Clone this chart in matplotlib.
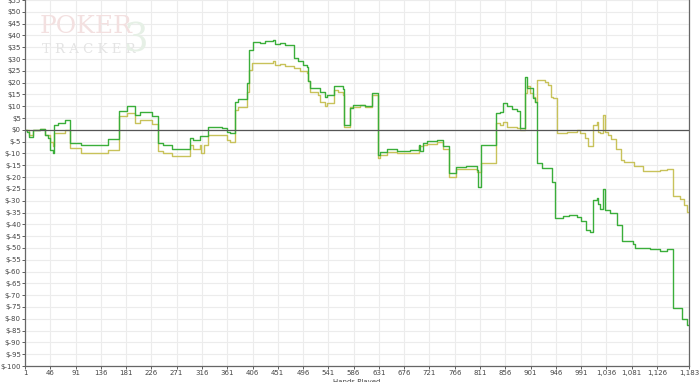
import numpy as np
import matplotlib.pyplot as plt

# cumulative winnings as (hand, dollars) breakpoints
green_hands = [1, 4, 8, 15, 28, 37, 42, 45, 51, 53, 60, 72, 81, 101, 149, 169, 183, 197,
               206, 227, 237, 247, 263, 295, 300, 312, 327, 351, 360, 366, 375, 380, 396,
               400, 407, 419, 428, 442, 446, 455, 464, 479, 487, 496, 503, 505, 508, 526,
               535, 539, 551, 567, 569, 580, 584, 606, 618, 630, 633, 645, 663, 686, 702,
               705, 709, 716, 734, 745, 756, 769, 786, 805, 807, 812, 839, 846, 852, 859,
               868, 877, 882, 891, 894, 905, 909, 912, 921, 939, 944, 958, 970, 984, 991,
               1000, 1006, 1012, 1019, 1021, 1024, 1030, 1033, 1042, 1055, 1064, 1083,
               1087, 1113, 1131, 1144, 1154, 1170, 1179, 1183]
green_won = [0, -1, -3, 0, 0.5, -2, -3.5, -8.5, -10, 2, 3, 4, -5.5, -6.6, -4, 8, 10, 6.3,
             7.5, 6, -5.4, -6.4, -8, -3.3, -4.2, -2.8, 1.4, 0.8, -0.7, -1.5, 12, 13, 19.8,
             34, 37.4, 36.8, 37.5, 37.9, 36.3, 36.8, 36, 30.4, 29, 27.5, 26.8, 20.5, 17.8,
             16.2, 14, 14.8, 18.4, 17.5, 2.1, 9.2, 10.6, 10.2, 15.5, -10.6, -9.2, -8.2, -9,
             -8.6, -6.4, -9, -5.6, -4.9, -4.2, -7, -18.4, -15.8, -15.3, -17, -24, -6.4, 7,
             7.6, 11.3, 10, 9, 8, 0.7, 22.6, 17.7, 13.4, 12, -14.1, -16.2, -21.9, -37.4,
             -36.5, -36, -37, -38.8, -42.4, -43.1, -29.7, -28.9, -31.4, -33.5, -25.1, -33.9,
             -35.2, -40.3, -47, -48.5, -50, -50.4, -51.3, -50.5, -75.6, -80, -82.6, -82.6]

yellow_hands = [1, 8, 15, 28, 37, 45, 51, 53, 72, 81, 101, 149, 169, 183, 197, 206, 227,
                237, 247, 263, 295, 300, 312, 315, 320, 327, 360, 366, 375, 380, 396, 400,
                405, 442, 446, 455, 464, 479, 491, 503, 505, 508, 522, 526, 535, 539, 551,
                558, 567, 569, 580, 597, 606, 618, 630, 633, 645, 663, 702, 709, 716, 734,
                745, 756, 769, 805, 812, 839, 846, 852, 859, 877, 882, 891, 894, 900, 905,
                909, 913, 927, 932, 937, 941, 948, 966, 984, 989, 998, 1003, 1012, 1019,
                1021, 1024, 1030, 1033, 1039, 1045, 1053, 1062, 1067, 1085, 1101, 1117,
                1131, 1144, 1154, 1167, 1174, 1179, 1183]
yellow_won = [0, -2, 0, 0.5, -2, -5, -7, -1.5, 0, -7.5, -9.6, -8.5, 6, 7, 3, 4, 2.5, -8.8,
              -9.8, -11, -6.6, -8, -6.4, -9.8, -6.4, -2.1, -4.2, -5, 8.5, 9.6, 16.2, 25.4,
              28.2, 29, 27.5, 28, 27, 26, 25, 24, 20.5, 16.2, 14.8, 12, 9.9, 11.3, 17, 16,
              14.8, 1.4, 9.8, 10.6, 9.6, 14.8, -12, -10.6, -9.2, -9.9, -7, -6.2, -5.9, -5,
              -8, -19.8, -16.7, -17.8, -14.1, 2.8, 2.1, 3.5, 1.4, 0.8, 0, 15.5, 18.4, 15.5,
              14.1, 12, 21.2, 20.3, 19, 14.1, 13.4, -1.4, -0.7, 0, -1.4, -3.4, -7, 2.1, 3.5,
              -0.7, -1.4, 6.4, -0.7, -2.1, -3.8, -8, -12.7, -13.4, -15.1, -17.4, -17.5, -17,
              -16.5, -28.2, -29.3, -32, -34.6, -34.6]

x_ticks = list(range(1, 1127, 45)) + [1183]
y_ticks = list(range(-100, 56, 5))

fig = plt.figure(figsize=(7, 3.82), dpi=100)
ax = fig.add_axes([25 / 700, 16 / 382, 664 / 700, 366 / 382])

ax.plot(yellow_hands, yellow_won, drawstyle='steps-post', color='#c8c25a', lw=1.0)
ax.plot(green_hands, green_won, drawstyle='steps-post', color='#3aae3a', lw=1.0)
ax.axhline(0, color='#555555', lw=0.9)

ax.set_xlim(1, 1183)
ax.set_ylim(-100, 55)
ax.set_xticks(x_ticks)
ax.set_xticklabels(['{:,}'.format(t) for t in x_ticks])
ax.set_yticks(y_ticks)
ax.set_yticklabels(['${}'.format(t) for t in y_ticks])
ax.tick_params(labelsize=5, length=2, width=0.6, colors='#444444', pad=1)
ax.grid(color='#ececec', lw=0.8)
ax.set_axisbelow(True)
for side in ['left', 'bottom', 'right']:
    ax.spines[side].set_color('#666666')
    ax.spines[side].set_linewidth(0.9)
ax.spines['top'].set_visible(False)
ax.set_xlabel('Hands Played', fontsize=5, color='#444444', labelpad=2)

# faint watermark logo
fig.text(40 / 700, 1 - 33 / 382, 'POKER', fontsize=18, family='DejaVu Serif',
         color='#f3e0e0')
fig.text(42 / 700, 1 - 53 / 382, 'T R A C K E R', fontsize=9.5, family='DejaVu Serif',
         color='#e4e4e4')
fig.text(124 / 700, 1 - 52 / 382, '3', fontsize=28, family='DejaVu Serif',
         color='#e6f0e6')

fig.savefig('out.png', dpi=100)
